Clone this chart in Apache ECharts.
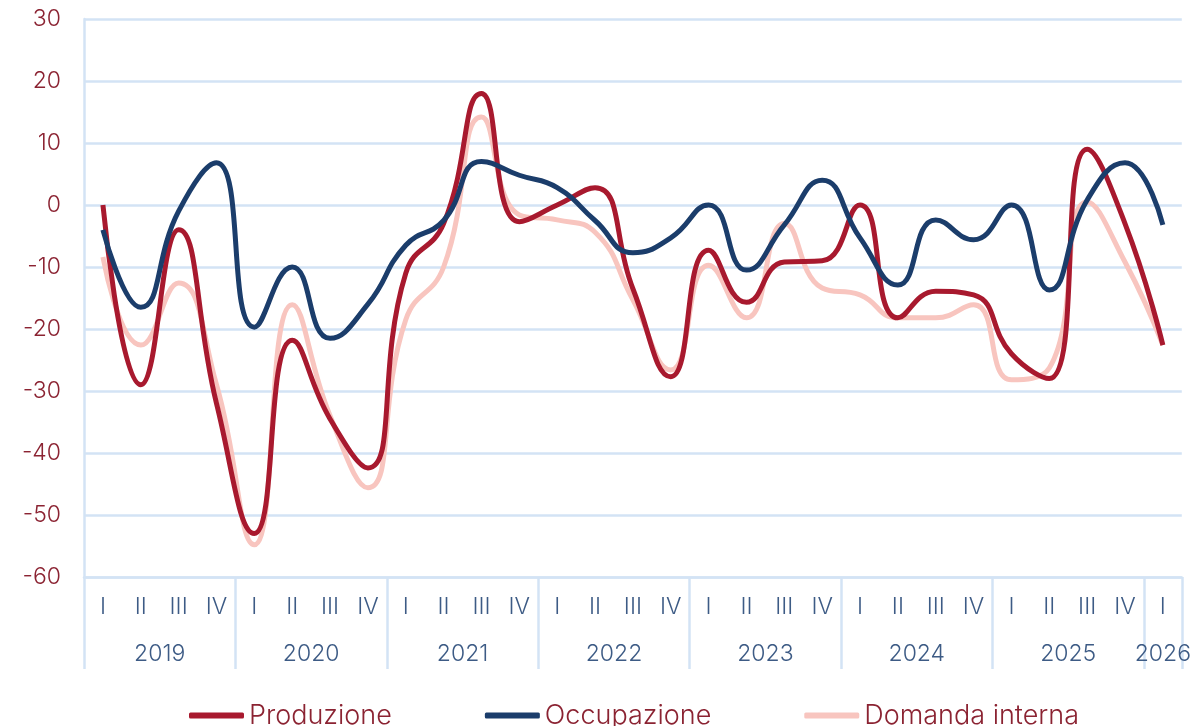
<!DOCTYPE html>
<html>
<head>
<meta charset="utf-8">
<script src="https://cdn.jsdelivr.net/npm/echarts@6/dist/echarts.min.js"></script>
<style>
  html, body { margin: 0; padding: 0; background: #fff; }
  #chart { width: 1194px; height: 726px; }
</style>
</head>
<body>
<div id="chart"></div>
<script>
const quarters = ['I','II','III','IV','I','II','III','IV','I','II','III','IV','I','II','III','IV','I','II','III','IV','I','II','III','IV','I','II','III','IV','I'];
const years = ['2019','2020','2021','2022','2023','2024','2025','2026'];
const yTicks = { min: -60, max: 30, interval: 10 };

const produzione = [0, -29, -4, -32, -53, -21.8, -34.5, -42.4, -11, -3, 18, -2.7, 0, 2.8, -13.5, -27.7, -7.3, -15.7, -9.2, -9, 0, -18.2, -13.9, -14.5, -24, -28, 9, -3, -22.6];
const occupazione = [-4, -16.5, -1, 6.8, -19.7, -10, -21.5, -16, -6.5, -2.5, 7, 4.8, 2.8, -2.5, -7.7, -5.3, 0, -10.5, -3.2, 4, -5.3, -12.9, -2.4, -5.6, 0, -13.7, 0.8, 6.8, -3.2];
const domanda = [-8.4, -22.6, -12.6, -29, -54.8, -16.1, -34, -45.6, -18.5, -10, 14.2, -1.6, -2.4, -4.4, -15.3, -26.6, -9.7, -18.2, -3, -13.4, -14.5, -18.2, -18.2, -16.1, -28.2, -26.3, 0.5, -9.2, -22.6];

const FONT = 'Inter';
const FW = 300;
const gridColor = '#D3E3F5';
const redText = '#8B2332';
const blueText = '#3D5B85';

const chart = echarts.init(document.getElementById('chart'));
chart.setOption({
  animation: false,
  grid: { left: 84, right: 11, top: 19, bottom: 149, containLabel: false },
  legend: {
    left: 184, top: 697,
    itemWidth: 55, itemHeight: 6, itemGap: 93,
    icon: 'roundRect',
    textStyle: { fontFamily: FONT, fontWeight: FW, fontSize: 27, color: redText },
    data: ['Produzione', 'Occupazione', 'Domanda interna']
  },
  xAxis: [
    {
      type: 'category',
      data: quarters,
      boundaryGap: true,
      axisLine: { show: true, onZero: false, lineStyle: { color: gridColor, width: 2.5 } },
      axisTick: { show: true, interval: (i) => i % 4 === 0, length: 92, lineStyle: { color: gridColor, width: 2.5 } },
      axisLabel: { interval: 0, margin: 19, fontFamily: FONT, fontWeight: FW, fontSize: 23, color: blueText },
      splitLine: { show: false }
    },
    {
      type: 'value',
      min: 0, max: quarters.length, interval: 0.5,
      position: 'bottom',
      axisLine: { show: false, onZero: false }, axisTick: { show: false }, splitLine: { show: false },
      axisLabel: {
        margin: 66, fontFamily: FONT, fontWeight: FW, fontSize: 23, color: blueText,
        showMinLabel: true, showMaxLabel: true,
        formatter: (v) => {
          const nFull = Math.floor(quarters.length / 4);
          if (v < nFull * 4 && v % 4 === 2) return years[(v - 2) / 4];
          if (v === quarters.length - 0.5 && quarters.length % 4 === 1) return years[nFull];
          return '';
        }
      }
    }
  ],
  yAxis: {
    type: 'value',
    min: yTicks.min, max: yTicks.max, interval: yTicks.interval,
    axisLine: { show: true, lineStyle: { color: gridColor, width: 2.5 } },
    axisTick: { show: false },
    axisLabel: { margin: 23, fontFamily: FONT, fontWeight: FW, fontSize: 23, color: redText },
    splitLine: { lineStyle: { color: gridColor, width: 2.5 } }
  },
  series: [
    { name: 'Produzione', type: 'line', data: produzione, smooth: 0.5, symbol: 'none', lineStyle: { width: 5, color: '#A8192E' }, itemStyle: { color: '#A8192E' }, z: 3 },
    { name: 'Occupazione', type: 'line', data: occupazione, smooth: 0.5, symbol: 'none', lineStyle: { width: 5, color: '#1B3D6B' }, itemStyle: { color: '#1B3D6B' }, z: 4 },
    { name: 'Domanda interna', type: 'line', data: domanda, smooth: 0.5, symbol: 'none', lineStyle: { width: 5, color: '#F8C5BF' }, itemStyle: { color: '#F8C5BF' }, z: 2 }
  ]
});
</script>
</body>
</html>
